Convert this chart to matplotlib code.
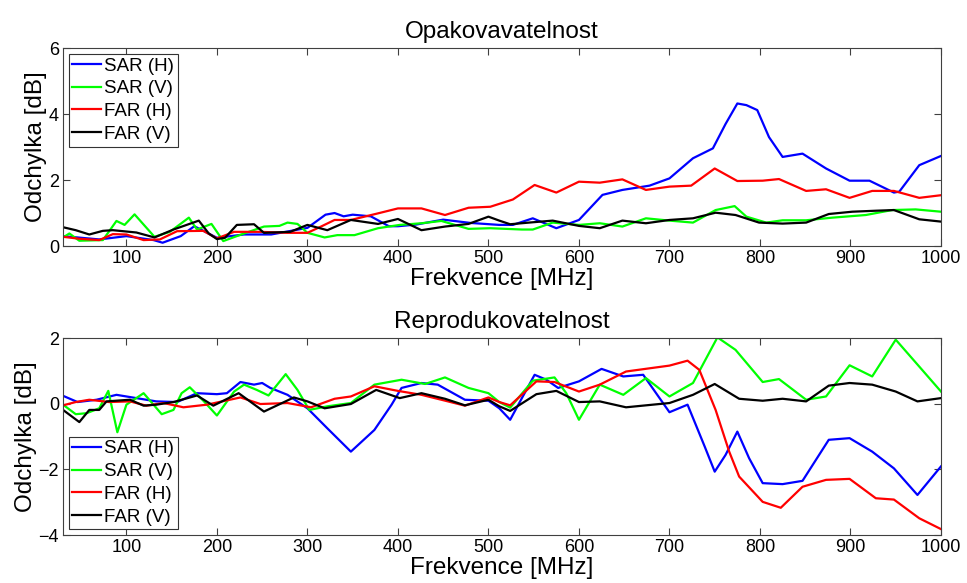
import numpy as np
import matplotlib
matplotlib.use("Agg")
import matplotlib.pyplot as plt

plt.rcParams['font.family'] = ['Liberation Sans', 'DejaVu Sans']

# ---- Opakovavatelnost (top) ----
f_sar_h_1 = [30, 50, 70, 100, 130, 140, 160, 175, 200, 230, 260, 300, 320, 330, 340, 350, 370, 390, 400, 420,
             450, 480, 512, 527, 549, 575, 600, 626, 648, 678, 700, 726, 748, 762, 775, 785, 797, 810, 825,
             847, 873, 899, 921, 948, 954, 976, 1000]
sar_h_1 = [0.3, 0.25, 0.2, 0.3, 0.18, 0.1, 0.3, 0.6, 0.25, 0.35, 0.35, 0.55, 0.95, 1.0, 0.9, 0.95, 0.9, 0.6, 0.6, 0.65,
           0.8, 0.7, 0.64, 0.64, 0.84, 0.54, 0.79, 1.55, 1.7, 1.83, 2.05, 2.66, 2.96, 3.7, 4.32, 4.27, 4.12, 3.3, 2.7,
           2.8, 2.35, 1.98, 1.98, 1.62, 1.65, 2.45, 2.73]

f_sar_v_1 = [30, 37, 48, 74, 89, 98, 109, 131, 148, 169, 178, 194, 207, 230, 252, 269, 278, 289, 300, 319, 333,
             352, 378, 402, 426, 448, 478, 502, 537, 549, 571, 600, 623, 648, 674, 700, 726, 751, 772, 785, 807,
             825, 851, 880, 917, 946, 972, 1000]
sar_v_1 = [0.26, 0.38, 0.16, 0.18, 0.76, 0.64, 0.96, 0.28, 0.43, 0.86, 0.5, 0.67, 0.15, 0.38, 0.59, 0.61, 0.71, 0.67,
           0.4, 0.26, 0.33, 0.33, 0.54, 0.64, 0.69, 0.76, 0.52, 0.54, 0.5, 0.5, 0.71, 0.64, 0.69, 0.59, 0.84, 0.77,
           0.71, 1.09, 1.21, 0.89, 0.71, 0.78, 0.78, 0.86, 0.94, 1.09, 1.11, 1.04]

f_far_h_1 = [30, 48, 70, 85, 100, 119, 137, 156, 185, 200, 219, 248, 278, 300, 315, 330, 348, 378, 400, 426, 452,
             478, 502, 527, 551, 575, 600, 623, 648, 674, 700, 724, 750, 775, 803, 821, 851, 873, 899, 924, 948,
             976, 1000]
far_h_1 = [0.28, 0.22, 0.18, 0.36, 0.35, 0.18, 0.2, 0.45, 0.46, 0.23, 0.43, 0.43, 0.4, 0.4, 0.59, 0.79, 0.79, 0.99,
           1.14, 1.14, 0.94, 1.16, 1.19, 1.41, 1.85, 1.62, 1.95, 1.92, 2.02, 1.7, 1.8, 1.83, 2.35, 1.97, 1.98, 2.03,
           1.67, 1.72, 1.46, 1.67, 1.67, 1.46, 1.54]

f_far_v_1 = [30, 44, 59, 74, 85, 111, 131, 152, 180, 191, 200, 209, 222, 241, 252, 281, 300, 322, 348, 378, 400,
             426, 452, 478, 500, 512, 524, 549, 571, 600, 623, 648, 674, 700, 726, 751, 773, 799, 825, 851, 876,
             902, 928, 948, 976, 1000]
far_v_1 = [0.57, 0.48, 0.35, 0.46, 0.48, 0.41, 0.26, 0.5, 0.77, 0.38, 0.21, 0.25, 0.64, 0.66, 0.4, 0.43, 0.64, 0.48,
           0.79, 0.67, 0.82, 0.48, 0.59, 0.67, 0.89, 0.77, 0.66, 0.72, 0.77, 0.61, 0.54, 0.77, 0.69, 0.79, 0.84,
           1.01, 0.94, 0.71, 0.68, 0.71, 0.97, 1.04, 1.07, 1.09, 0.81, 0.74]

# ---- Reprodukovatelnost (bottom) ----
f_sar_h_2 = [30, 46, 67, 89, 111, 133, 156, 178, 200, 211, 226, 241, 250, 259, 278, 300, 322, 348, 374, 393, 404,
             426, 444, 474, 500, 512, 524, 535, 551, 564, 577, 600, 625, 649, 671, 700, 720, 739, 750, 762, 775,
             788, 803, 825, 847, 876, 899, 924, 948, 974, 1000]
sar_h_2 = [0.24, 0.05, 0.12, 0.27, 0.17, 0.07, 0.05, 0.32, 0.29, 0.32, 0.66, 0.58, 0.63, 0.48, 0.27, -0.14, -0.75,
           -1.46, -0.8, -0.03, 0.48, 0.63, 0.58, 0.12, 0.09, -0.14, -0.49, 0.07, 0.88, 0.73, 0.48, 0.68, 1.06, 0.83,
           0.88, -0.26, -0.03, -1.31, -2.07, -1.56, -0.85, -1.66, -2.42, -2.45, -2.35, -1.1, -1.05, -1.46, -1.97,
           -2.78, -1.91]

f_sar_v_2 = [30, 44, 56, 70, 80, 90, 100, 119, 139, 152, 161, 170, 185, 200, 219, 230, 244, 257, 276, 289, 302,
             322, 348, 374, 404, 430, 452, 478, 500, 512, 524, 549, 573, 586, 600, 623, 649, 674, 700, 726, 753,
             773, 803, 821, 851, 873, 899, 924, 950, 976, 1000]
sar_v_2 = [-0.03, -0.32, -0.29, -0.14, 0.39, -0.87, -0.03, 0.32, -0.32, -0.19, 0.32, 0.5, 0.09, -0.36, 0.37, 0.58,
           0.42, 0.25, 0.9, 0.42, -0.19, -0.08, 0.02, 0.58, 0.73, 0.6, 0.8, 0.48, 0.32, 0.05, -0.12, 0.7, 0.8, 0.32,
           -0.49, 0.58, 0.27, 0.78, 0.22, 0.63, 2.02, 1.64, 0.66, 0.75, 0.12, 0.22, 1.17, 0.83, 1.95, 1.13, 0.37]

f_far_h_2 = [30, 44, 59, 81, 104, 122, 141, 163, 189, 226, 248, 278, 304, 330, 348, 374, 400, 426, 448, 474, 500,
             512, 524, 553, 573, 600, 623, 652, 700, 720, 733, 751, 766, 777, 803, 823, 847, 873, 899, 928, 948,
             976, 1000]
far_h_2 = [-0.05, 0.05, 0.12, 0.05, 0.07, -0.06, 0.02, -0.11, -0.03, 0.19, -0.01, 0.02, -0.11, 0.15, 0.22, 0.53,
           0.39, 0.27, 0.12, -0.06, 0.19, 0.05, -0.05, 0.68, 0.66, 0.37, 0.58, 0.98, 1.16, 1.31, 1.03, -0.19, -1.46,
           -2.22, -2.99, -3.17, -2.53, -2.32, -2.29, -2.88, -2.92, -3.49, -3.82]

f_far_v_2 = [30, 48, 59, 70, 78, 104, 119, 133, 152, 178, 196, 224, 252, 285, 300, 319, 348, 376, 402, 426, 452,
             474, 500, 512, 524, 553, 575, 600, 623, 652, 700, 726, 750, 777, 803, 825, 851, 876, 899, 924, 950,
             974, 1000]
far_v_2 = [-0.19, -0.56, -0.19, -0.19, 0.07, 0.12, -0.06, -0.03, 0.05, 0.25, -0.06, 0.32, -0.24, 0.19, 0.07, -0.14,
           -0.01, 0.42, 0.17, 0.32, 0.15, -0.05, 0.12, -0.08, -0.22, 0.29, 0.39, 0.05, 0.07, -0.11, 0.02, 0.27, 0.6,
           0.15, 0.09, 0.15, 0.07, 0.55, 0.63, 0.58, 0.37, 0.07, 0.17]

labels = ["SAR (H)", "SAR (V)", "FAR (H)", "FAR (V)"]
colors = ["#0000ff", "#00ff00", "#ff0000", "#000000"]

fig = plt.figure(figsize=(9.67, 5.83), dpi=100)
ax1 = fig.add_axes([0.0652, 0.578, 0.9079, 0.3396])
ax2 = fig.add_axes([0.0652, 0.0823, 0.9079, 0.3379])

top = [(f_sar_h_1, sar_h_1), (f_sar_v_1, sar_v_1), (f_far_h_1, far_h_1), (f_far_v_1, far_v_1)]
bottom = [(f_sar_h_2, sar_h_2), (f_sar_v_2, sar_v_2), (f_far_h_2, far_h_2), (f_far_v_2, far_v_2)]

for ax, series, title, ylim, yticks, loc in [
        (ax1, top, "Opakovavatelnost", (0, 6), [0, 2, 4, 6], "upper left"),
        (ax2, bottom, "Reprodukovatelnost", (-4, 2), [-4, -2, 0, 2], "lower left")]:
    for (f, v), lab, c in zip(series, labels, colors):
        ax.plot(f, v, color=c, linewidth=1.6, label=lab)
    ax.set_xlim(30, 1000)
    ax.set_ylim(*ylim)
    ax.set_xticks(range(100, 1001, 100))
    ax.set_yticks(yticks)
    ax.tick_params(direction="in", top=True, right=True, length=5, labelsize=13, pad=3, color="0.25")
    for s in ax.spines.values():
        s.set_color("0.25")
        s.set_linewidth(0.8)
    ax.set_title(title, fontsize=17.5, pad=7)
    ax.set_xlabel("Frekvence [MHz]", fontsize=17.5, labelpad=0.5)
    ax.set_ylabel("Odchylka [dB]", fontsize=17.5, labelpad=1)
    leg = ax.legend(loc=loc, fontsize=13.5, fancybox=False, framealpha=1, edgecolor="0.2",
                    handlelength=1.5, handletextpad=0.2, labelspacing=0.3, borderpad=0.2,
                    borderaxespad=0.3)
    leg.get_frame().set_linewidth(0.8)

fig.savefig("out.png", dpi=100)
